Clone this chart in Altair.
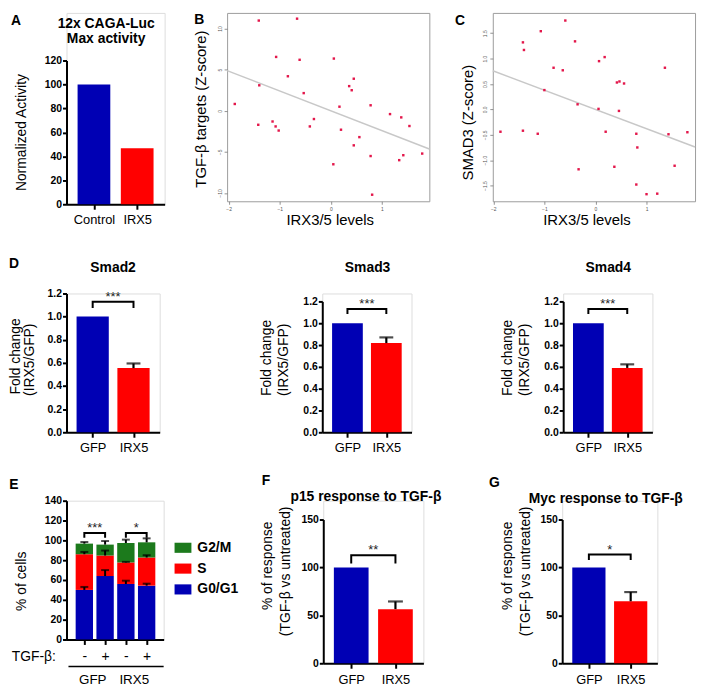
import json
import altair as alt
import pandas as pd

FONT = "Liberation Sans"
BLUE = "#0000b4"
RED = "#ff0000"
GREEN = "#1c7a1c"
PT = "#e3174b"
FRAME = "#9c9c9c"
FIT = "#c8c8c8"

# ---------------- data ----------------
a_groups = ["Control", "IRX5"]
a_values = [100, 46.8]

b_x = [-1.41, -0.66, -1.07, -0.61, 0.06, -0.84, 0.45, -1.40, 0.36, 0.41, -0.53, -1.88,
       0.17, 0.78, 1.16, 1.38, -0.33, -1.14, -1.42, -1.08, -0.41, -1.02, 0.20, 1.54,
       0.56, 0.45, 0.78, 1.42, 1.34, 1.79, 0.05, 0.81]
b_y = [10.97, 11.2, 6.55, 6.2, 6.35, 4.2, 3.9, 3.1, 3.0, 2.5, 2.15, 0.83,
       0.5, 0.67, -0.4, -0.8, -1.0, -1.3, -1.7, -1.9, -1.9, -2.4, -2.3, -1.85,
       -3.2, -4.2, -5.5, -5.4, -6.0, -5.2, -6.5, -10.2]
b_fit_x = [-2.03, 1.93]
b_fit_y = [4.89, -4.64]

c_x = [-0.59, -1.07, -1.42, -0.40, -1.40, 0.18, 0.07, -0.82, -0.64, 1.36, 0.42, 0.47,
       0.56, -1.00, -0.35, 0.06, 0.46, -1.86, -1.42, -1.13, 0.20, 0.80, 1.43, 1.80,
       0.82, 0.37, -0.33, 1.55, 0.80, 1.00, 1.21]
c_y = [1.75, 1.54, 1.32, 1.34, 1.17, 1.03, 0.95, 0.82, 0.77, 0.82, 0.53, 0.55,
       0.51, 0.38, 0.10, 0.01, -0.03, -0.44, -0.42, -0.48, -0.44, -0.48, -0.49, -0.45,
       -0.75, -1.13, -1.18, -1.11, -1.48, -1.67, -1.66]
c_fit_x = [-2.01, 1.95]
c_fit_y = [0.76, -0.74]

d_groups = ["GFP", "IRX5"]
smad2_values = [1.0, 0.555]
smad2_err = 0.595
smad3_values = [1.0, 0.818]
smad3_err = 0.87
smad4_values = [1.0, 0.59]
smad4_err = 0.623

e_signs = ["-", "+", "-", "+"]
e_groups = ["GFP", "IRX5"]
e_phases = ["G2/M", "S", "G0/G1"]
e_g0_top = [50, 64, 56, 54.3]
e_s_top = [86, 84.7, 77.7, 82.7]
e_g2_top = [96.7, 95.7, 97.3, 98]
e_g0_err = [53, 70, 59.3, 56.3]
e_s_err = [88.3, 89.7, 78.3, 85]
e_g2_err = [98.3, 99.3, 100.7, 102]

f_values = [100, 56.5]
f_err = 64.5
g_values = [100, 64.7]
g_err = 74.3

ONE = pd.DataFrame({"k": [0]})


# ---------------- helpers ----------------
def txt(text, x, y, size=14, weight="normal", angle=0, align="center", baseline="middle"):
    return alt.Chart(ONE).mark_text(
        text=text, font=FONT, fontSize=size, fontWeight=weight, angle=angle,
        align=align, baseline=baseline, color="black"
    ).encode(x=alt.value(x), y=alt.value(y))


def cell(xl, xr, yt, yb):
    h = alt.Chart(ONE).mark_rule(opacity=0, strokeWidth=0.1).encode(
        x=alt.value(xl), x2=alt.value(xr), y=alt.value(yt))
    v = alt.Chart(ONE).mark_rule(opacity=0, strokeWidth=0.1).encode(
        x=alt.value(xl), y=alt.value(yt), y2=alt.value(yb))
    return [h, v]


def prism_y(values, fmt):
    return alt.Axis(values=values, format=fmt, title=None, grid=False,
                    domainColor="black", domainWidth=2, tickColor="black",
                    tickWidth=2, tickSize=4, labelFont=FONT, labelFontSize=10.5,
                    labelFontWeight="bold", labelColor="black", labelPadding=1,
                    labelOverlap=False, labelFlush=False)


def prism_x(values, labels, start, pad, size=13):
    expr = json.dumps(labels) + "[datum.value - %d]" % start
    return alt.Axis(values=values, labelExpr=expr, title=None, grid=False,
                    domainColor="black", domainWidth=2, tickColor="black",
                    tickWidth=2, tickSize=5, labelFont=FONT, labelFontSize=size,
                    labelColor="black", labelPadding=pad, labelOverlap=False,
                    labelFlush=False)


def brackets_df(items):
    rows = []
    for i, (l, r, hi, lo) in enumerate(items):
        for j, (x, y) in enumerate([(l, lo), (l, hi), (r, hi), (r, lo)]):
            rows.append({"id": i, "o": j, "x": x, "y": y})
    return pd.DataFrame(rows)


def bar_panel(groups, values, err, w, h, ytop, ymax, yticks, yfmt, bar_w, cap_w,
              sig, texts, box, xpad):
    pos = list(range(len(groups)))
    xs = alt.Scale(domain=[-0.52, 1.52], nice=False, zero=False)
    ys = alt.Scale(domain=[0, ymax], nice=False, range=[h, ytop])
    xa = prism_x(pos, groups, 0, xpad)
    ya = prism_y(yticks, yfmt)

    def X(f):
        return alt.X(f, scale=xs, axis=xa, title=None)

    def Y(f):
        return alt.Y(f, scale=ys, axis=ya, title=None, stack=None)

    df = pd.DataFrame({"pos": pos, "group": groups, "value": values})
    layers = [alt.Chart(df).mark_bar(orient="vertical", width=bar_w).encode(
        x=X("pos:Q"), y=Y("value:Q"),
        color=alt.Color("group:N", scale=alt.Scale(domain=groups, range=[BLUE, RED]),
                        legend=None))]
    if err is not None:
        edf = pd.DataFrame({"pos": [pos[1]], "lo": [values[1]], "hi": [err]})
        layers.append(alt.Chart(edf).mark_rule(color="black", strokeWidth=2.2).encode(
            x=X("pos:Q"), y=Y("lo:Q"), y2="hi:Q"))
        layers.append(alt.Chart(edf).mark_tick(orient="horizontal", size=cap_w,
                                               thickness=2.2, color="black").encode(
            x=X("pos:Q"), y=Y("hi:Q")))
    if sig is not None:
        hi, lo, stars = sig
        bdf = brackets_df([(0, 1, hi, lo)])
        layers.append(alt.Chart(bdf).mark_line(color="black", strokeWidth=2).encode(
            x=X("x:Q"), y=Y("y:Q"), order="o:Q", detail="id:N"))
        sdf = pd.DataFrame({"x": [0.5], "y": [hi], "t": [stars]})
        layers.append(alt.Chart(sdf).mark_text(font=FONT, fontSize=13, baseline="alphabetic",
                                               dy=-1, color="#222").encode(
            x=X("x:Q"), y=Y("y:Q"), text="t:N"))
    layers += texts
    layers += cell(*box)
    return alt.layer(*layers).properties(width=w, height=h)


def scatter_panel(xv, yv, fx, fy, xdom, ydom, yticks, yfmt, w, h, texts, box):
    xs = alt.Scale(domain=xdom, nice=False, zero=False)
    ys = alt.Scale(domain=ydom, nice=False, zero=False)
    xa = alt.Axis(values=[-2, -1, 0, 1], format="d", title=None, grid=False, domain=False,
                  tickColor="#777", tickSize=3, tickWidth=0.8, labelFont=FONT,
                  labelFontSize=5, labelColor="#555", labelPadding=2,
                  labelOverlap=False, labelFlush=False)
    ya = alt.Axis(values=yticks, format=yfmt, title=None, grid=False, domain=False,
                  tickColor="#777", tickSize=3, tickWidth=0.8, labelFont=FONT,
                  labelFontSize=5, labelColor="#555", labelPadding=2, labelAngle=270,
                  labelOverlap=False, labelFlush=False)
    pts = alt.Chart(pd.DataFrame({"x": xv, "y": yv})).mark_point(
        shape="square", filled=True, size=6, color=PT, opacity=1).encode(
        x=alt.X("x:Q", scale=xs, axis=xa, title=None),
        y=alt.Y("y:Q", scale=ys, axis=ya, title=None))
    fit = alt.Chart(pd.DataFrame({"x": fx, "y": fy})).mark_line(
        color=FIT, strokeWidth=1.5).encode(
        x=alt.X("x:Q", scale=xs, axis=xa, title=None),
        y=alt.Y("y:Q", scale=ys, axis=ya, title=None))
    layers = [fit, pts] + texts + cell(*box)
    return alt.layer(*layers).properties(
        width=w, height=h, view=alt.ViewBackground(stroke=FRAME, strokeWidth=1))


# ---------------- row 1 : A, B, C ----------------
A = bar_panel(a_groups, a_values, None, 99, 193, 48, 120, [0, 20, 40, 60, 80, 100, 120], "d",
              33, 0, None,
              [txt("A", -51, 8, 14, "bold"),
               txt("12x CAGA-Luc", 40, 11, 14, "bold"),
               txt("Max activity", 40, 26, 14, "bold"),
               txt("Normalized Activity", -45, 120.7, 14, angle=270)],
              (-58, 116, -1, 230), 4)

B = scatter_panel(b_x, b_y, b_fit_x, b_fit_y, [-2.03, 1.93], [-11.0, 11.9],
                  [-10, -5, 0, 5, 10], "d", 204, 190,
                  [txt("B", -28, 7.5, 14, "bold"),
                   txt("TGF-β targets (Z-score)", -26.5, 97, 15, angle=270),
                   txt("IRX3/5 levels", 104, 209, 15)],
                  (-44, 222, -1, 230))
C = scatter_panel(c_x, c_y, c_fit_x, c_fit_y, [-2.01, 1.95], [-1.81, 1.90],
                  [-1.5, -1.0, -0.5, 0.0, 0.5, 1.0, 1.5], ".1f", 204, 190,
                  [txt("C", -33, 8.5, 14, "bold"),
                   txt("SMAD3 (Z-score)", -25, 110.7, 15, angle=270),
                   txt("IRX3/5 levels", 95, 209, 15)],
                  (-44, 208, -1, 230))

# ---------------- row 2 : D ----------------
d_ticks = [0, 0.2, 0.4, 0.6, 0.8, 1.0, 1.2]
D2 = bar_panel(d_groups, smad2_values, smad2_err, 94, 140, 0, 1.2, d_ticks, ".1f",
               32.5, 14, (1.128, 1.074, "***"),
               [txt("D", -53, -30, 14, "bold"),
                txt("Smad2", 47, -25.7, 14, "bold"),
                txt("Fold change", -51, 63.5, 14, angle=270),
                txt("(IRX5/GFP)", -37, 66.8, 14, angle=270)],
               (-58, 184, -51, 172), 4)
D3 = bar_panel(d_groups, smad3_values, smad3_err, 90, 140, 8, 1.2, d_ticks, ".1f",
               31, 14, (1.13, 1.085, "***"),
               [txt("Smad3", 45.7, -25.7, 14, "bold"),
                txt("Fold change", -55.3, 65, 14, angle=270),
                txt("(IRX5/GFP)", -38.7, 67, 14, angle=270)],
               (-72, 168, -51, 172), 4)
D4 = bar_panel(d_groups, smad4_values, smad4_err, 90, 140, 8, 1.2, d_ticks, ".1f",
               31, 14, (1.13, 1.085, "***"),
               [txt("Smad4", 45.5, -25.7, 14, "bold"),
                txt("Fold change", -55.2, 65, 14, angle=270),
                txt("(IRX5/GFP)", -38.5, 67, 14, angle=270)],
               (-73, 137, -51, 172), 4)

# ---------------- row 3 : E, F, G ----------------
e_pos = [1, 2, 3, 4]
rows = []
for i, p in enumerate(e_pos):
    rows.append({"pos": p, "phase": "G0/G1", "lo": 0, "hi": e_g0_top[i], "err": e_g0_err[i]})
    rows.append({"pos": p, "phase": "S", "lo": e_g0_top[i], "hi": e_s_top[i], "err": e_s_err[i]})
    rows.append({"pos": p, "phase": "G2/M", "lo": e_s_top[i], "hi": e_g2_top[i], "err": e_g2_err[i]})
e_df = pd.DataFrame(rows)
exs = alt.Scale(domain=[0.38, 4.58], nice=False, zero=False)
eys = alt.Scale(domain=[0, 140], nice=False)
exa = prism_x(e_pos, e_signs, 1, 5, 14)
eya = prism_y([0, 20, 40, 60, 80, 100, 120, 140], "d")


def EX(f):
    return alt.X(f, scale=exs, axis=exa, title=None)


def EY(f):
    return alt.Y(f, scale=eys, axis=eya, title=None, stack=None)


e_bars = alt.Chart(e_df).mark_bar(orient="vertical", width=17.5).encode(
    x=EX("pos:Q"), y=EY("lo:Q"), y2="hi:Q",
    color=alt.Color("phase:N", scale=alt.Scale(domain=e_phases, range=[GREEN, RED, BLUE]),
                    legend=alt.Legend(title=None, orient="none", legendX=109, legendY=39,
                                      symbolType="M-1,-0.6H1V0.6H-1Z", symbolSize=289,
                                      symbolStrokeWidth=0, labelFont=FONT, labelFontSize=14,
                                      labelFontWeight="bold", labelColor="black",
                                      rowPadding=5, labelOffset=6, padding=0)))
e_errs = alt.Chart(e_df).mark_rule(color="black", strokeWidth=2).encode(
    x=EX("pos:Q"), y=EY("hi:Q"), y2="err:Q")
e_caps = alt.Chart(e_df).mark_tick(orient="horizontal", size=8, thickness=2,
                                   color="black").encode(x=EX("pos:Q"), y=EY("err:Q"))
e_br = alt.Chart(brackets_df([(1, 2, 107.3, 102.7), (3, 4, 107.3, 102.7)])).mark_line(
    color="black", strokeWidth=2).encode(x=EX("x:Q"), y=EY("y:Q"), order="o:Q", detail="id:N")
e_st = alt.Chart(pd.DataFrame({"x": [1.5, 3.5], "y": [107.3, 107.3], "t": ["***", "*"]})).mark_text(
    font=FONT, fontSize=13, baseline="alphabetic", dy=-1, color="#222").encode(
    x=EX("x:Q"), y=EY("y:Q"), text="t:N")
e_grp = alt.Chart(pd.DataFrame({"x": [1.5, 3.5], "t": e_groups})).mark_text(
    font=FONT, fontSize=13.5, color="black", baseline="middle", dx=-2).encode(
    x=EX("x:Q"), y=alt.value(181), text="t:N")
e_line = alt.Chart(ONE).mark_rule(color="black", strokeWidth=1.5).encode(
    x=alt.value(2), x2=alt.value(98), y=alt.value(167.3))
E = alt.layer(e_bars, e_errs, e_caps, e_br, e_st, e_grp, e_line,
              txt("E", -53, -16.2, 14, "bold"),
              txt("% of cells", -44.8, 81.3, 14, angle=270),
              txt("TGF-β:", -10.7, 158, 14, align="right"),
              *cell(-58, 184, -35, 188)).properties(width=98, height=140)

fg_ticks = [0, 50, 100, 150]
F = bar_panel(d_groups, f_values, f_err, 101, 164, 19, 150, fg_ticks, "d", 35, 15,
              (112.8, 104.0, "**"),
              [txt("F", -57.8, -19.5, 14, "bold"),
               txt("p15 response to TGF-β", 43, -3.7, 14, "bold"),
               txt("% of response", -56.2, 65.7, 14, angle=270),
               txt("(TGF-β vs untreated)", -37.8, 71.3, 14, angle=270)],
              (-73, 157, -35, 188), 5)
G = bar_panel(d_groups, g_values, g_err, 96, 164, 19, 150, fg_ticks, "d", 33.5, 13,
              (113.5, 107.7, "*"),
              [txt("G", -68.5, -17.8, 14, "bold"),
               txt("Myc response to TGF-β", 44, -2, 14, "bold"),
               txt("% of response", -54.2, 65.7, 14, angle=270),
               txt("(TGF-β vs untreated)", -36.8, 71.3, 14, angle=270)],
              (-82, 138, -35, 188), 5)

row1 = alt.hconcat(A, B, C, spacing=0).resolve_scale(color="independent")
row2 = alt.hconcat(D2, D3, D4, spacing=0).resolve_scale(color="independent")
row3 = alt.hconcat(E, F, G, spacing=0).resolve_scale(color="independent")

chart = alt.vconcat(row1, row2, row3, spacing=0, padding=0).resolve_scale(
    color="independent").configure_view(stroke=None).configure(font=FONT)

chart.save("out.html", embed_options={"renderer": "svg", "actions": False})
